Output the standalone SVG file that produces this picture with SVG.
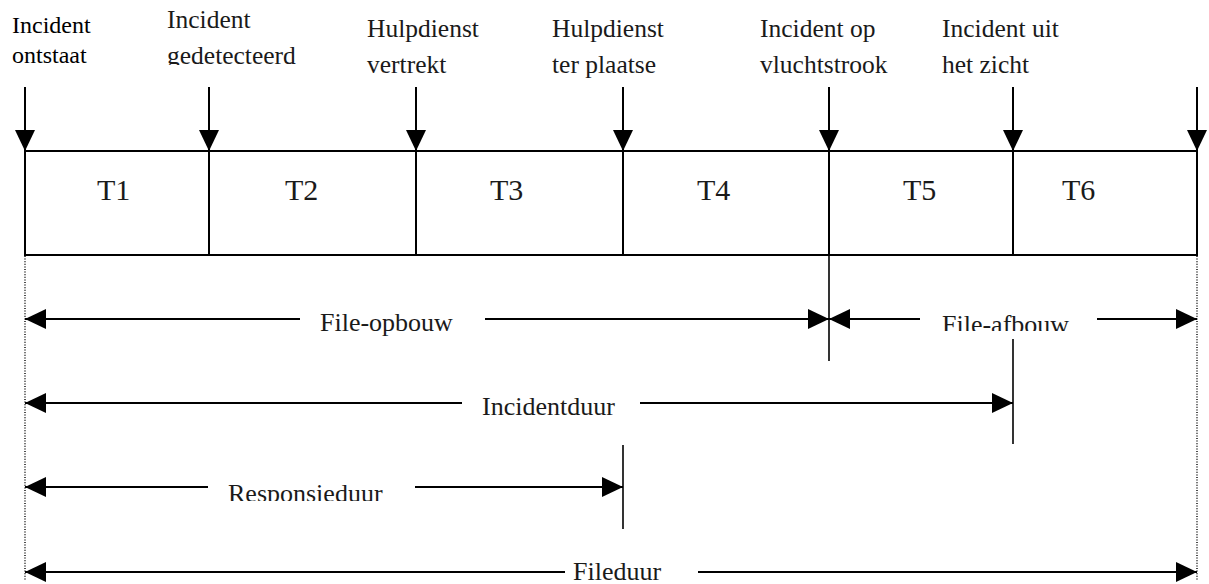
<svg xmlns="http://www.w3.org/2000/svg" width="1209" height="584" viewBox="0 0 1209 584">
  <style>
    .bg { fill: #ffffff; }
    .ln { stroke: #000; stroke-width: 2; fill: none; }
    .thin { stroke: #000; stroke-width: 1.6; fill: none; }
    .dot { stroke: #000; stroke-width: 1.4; stroke-dasharray: 1 1.6; fill: none; }
    text { font-family: 'Liberation Serif', 'Times New Roman', serif; fill: #1a1a1a; }
    .lbl { font-size: 25.5px; }
    .lbl0 { font-size: 24px; fill: #000; }
    .tlbl { font-size: 30px; }
    .span { font-size: 26px; }
  </style>
  <defs>
    <marker id="head" viewBox="0 0 21 20" refX="21" refY="10" markerWidth="21" markerHeight="20" markerUnits="userSpaceOnUse" orient="auto-start-reverse">
      <path d="M0,0 L21,10 L0,20 Z" fill="#000"/>
    </marker>
    <clipPath id="clipDet"><rect x="150" y="40" width="200" height="25"/></clipPath>
    <clipPath id="clipAf"><rect x="930" y="300" width="160" height="31"/></clipPath>
    <clipPath id="clipResp"><rect x="215" y="470" width="190" height="31"/></clipPath>
  </defs>

  <rect class="bg" x="0" y="0" width="1209" height="584"/>

  <!-- time bar with six phases -->
  <g id="bar">
    <rect class="ln" x="25" y="151" width="1172" height="104"/>
  </g>
  <g id="phase-T1"><text class="tlbl" x="97" y="200">T1</text></g>
  <g id="phase-T2"><line class="ln" x1="209" y1="151" x2="209" y2="255"/><text class="tlbl" x="285" y="200">T2</text></g>
  <g id="phase-T3"><line class="ln" x1="416" y1="151" x2="416" y2="255"/><text class="tlbl" x="490" y="200">T3</text></g>
  <g id="phase-T4"><line class="ln" x1="623" y1="151" x2="623" y2="255"/><text class="tlbl" x="697" y="200">T4</text></g>
  <g id="phase-T5"><line class="ln" x1="829" y1="151" x2="829" y2="255"/><text class="tlbl" x="903" y="200">T5</text></g>
  <g id="phase-T6"><line class="ln" x1="1013" y1="151" x2="1013" y2="255"/><text class="tlbl" x="1062" y="200">T6</text></g>

  <!-- event labels -->
  <g id="event-ontstaat">
    <text class="lbl0" x="12" y="33">Incident</text>
    <text class="lbl0" x="12" y="63">ontstaat</text>
  </g>
  <g id="event-gedetecteerd">
    <text class="lbl" x="167" y="28">Incident</text>
    <text class="lbl" x="167" y="64" clip-path="url(#clipDet)">gedetecteerd</text>
  </g>
  <g id="event-vertrekt">
    <text class="lbl" x="367" y="37">Hulpdienst</text>
    <text class="lbl" x="367" y="73">vertrekt</text>
  </g>
  <g id="event-ter-plaatse">
    <text class="lbl" x="552" y="37">Hulpdienst</text>
    <text class="lbl" x="552" y="73">ter plaatse</text>
  </g>
  <g id="event-vluchtstrook">
    <text class="lbl" x="760" y="37">Incident op</text>
    <text class="lbl" x="760" y="73">vluchtstrook</text>
  </g>
  <g id="event-uit-zicht">
    <text class="lbl" x="942" y="37">Incident uit</text>
    <text class="lbl" x="942" y="73">het zicht</text>
  </g>

  <!-- duration labels -->
  <g id="span-opbouw"><text class="span" x="320" y="331">File-opbouw</text></g>
  <g id="span-afbouw"><text class="span" x="942" y="333" clip-path="url(#clipAf)">File-afbouw</text></g>
  <g id="span-incidentduur"><text class="span" x="482" y="415">Incidentduur</text></g>
  <g id="span-responsieduur"><text class="span" x="228" y="502" clip-path="url(#clipResp)">Responsieduur</text></g>
  <g id="span-fileduur"><text class="span" x="573" y="580">Fileduur</text></g>

  <g id="connectors">
    <!-- event arrows onto the bar -->
    <line class="ln" x1="25" y1="87" x2="25" y2="151" marker-end="url(#head)"/>
    <line class="ln" x1="209" y1="87" x2="209" y2="151" marker-end="url(#head)"/>
    <line class="ln" x1="416" y1="87" x2="416" y2="151" marker-end="url(#head)"/>
    <line class="ln" x1="623" y1="87" x2="623" y2="151" marker-end="url(#head)"/>
    <line class="ln" x1="829" y1="87" x2="829" y2="151" marker-end="url(#head)"/>
    <line class="ln" x1="1013" y1="87" x2="1013" y2="151" marker-end="url(#head)"/>
    <line class="ln" x1="1197" y1="87" x2="1197" y2="151" marker-end="url(#head)"/>

    <!-- dotted extension lines -->
    <line class="dot" x1="25" y1="256" x2="25" y2="580"/>
    <line class="dot" x1="1197" y1="256" x2="1197" y2="580"/>

    <!-- tick lines -->
    <line class="thin" x1="829" y1="255" x2="829" y2="361"/>
    <line class="thin" x1="1013" y1="339" x2="1013" y2="444"/>
    <line class="thin" x1="623" y1="445" x2="623" y2="529"/>

    <!-- File-opbouw / File-afbouw -->
    <line class="ln" x1="25" y1="319" x2="300" y2="319" marker-start="url(#head)"/>
    <line class="ln" x1="485" y1="319" x2="829" y2="319" marker-end="url(#head)"/>
    <line class="ln" x1="829" y1="319" x2="920" y2="319" marker-start="url(#head)"/>
    <line class="ln" x1="1097" y1="319" x2="1197" y2="319" marker-end="url(#head)"/>

    <!-- Incidentduur -->
    <line class="ln" x1="25" y1="403" x2="462" y2="403" marker-start="url(#head)"/>
    <line class="ln" x1="640" y1="403" x2="1013" y2="403" marker-end="url(#head)"/>

    <!-- Responsieduur -->
    <line class="ln" x1="25" y1="487" x2="208" y2="487" marker-start="url(#head)"/>
    <line class="ln" x1="415" y1="487" x2="623" y2="487" marker-end="url(#head)"/>

    <!-- Fileduur -->
    <line class="ln" x1="25" y1="572" x2="565" y2="572" marker-start="url(#head)"/>
    <line class="ln" x1="698" y1="572" x2="1197" y2="572" marker-end="url(#head)"/>
  </g>
</svg>
